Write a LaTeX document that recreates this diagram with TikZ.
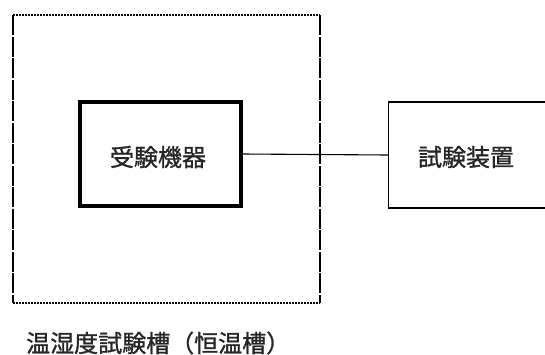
\documentclass[tikz,border=0pt]{standalone}
\usepackage{fontspec}
\newfontfamily\cjk[FakeBold=1.2]{Noto Sans CJK JP}
\begin{document}
\begin{tikzpicture}[x=1pt,y=-1pt,
  lbl/.style={font=\cjk\fontsize{24}{24}\selectfont, text=black!85, inner sep=0pt},
  thickbox/.style={draw, line width=4pt, minimum width=161pt, minimum height=104pt, inner sep=0pt},
  plainbox/.style={draw, line width=1.2pt, minimum width=200pt, minimum height=106pt, inner sep=0pt, anchor=west}]
\useasboundingbox (0,0) rectangle (545,354);
% outer chamber
\coordinate (tl) at (13,15);
\coordinate (tr) at (320,15);
\coordinate (br) at (320,303);
\coordinate (bl) at (13,303);
\draw[line width=1.6pt, dash pattern=on 2pt off 1pt] (tl) -- (tr);
\draw[line width=1.6pt, dash pattern=on 2pt off 1pt] (bl) -- (br);
\draw[line width=1.5pt, dash pattern=on 20pt off 1.5pt] (tl) -- (bl);
\draw[line width=1.5pt, dash pattern=on 20pt off 1.5pt] (tr) -- (br);
% nodes
\node[thickbox] (dut) at (160.5,154) {};
\node[lbl] (dutl) at (158,157) {受験機器};
\node[plainbox] (eq) at (388,155) {};
\node[lbl] (eql) at (466,157) {試験装置};
\draw[line width=1.1pt] (dut.east) -- (eq.west);
\node[lbl, anchor=west] (cap) at (26,343) {温湿度試験槽（恒温槽）};
\end{tikzpicture}
\end{document}
